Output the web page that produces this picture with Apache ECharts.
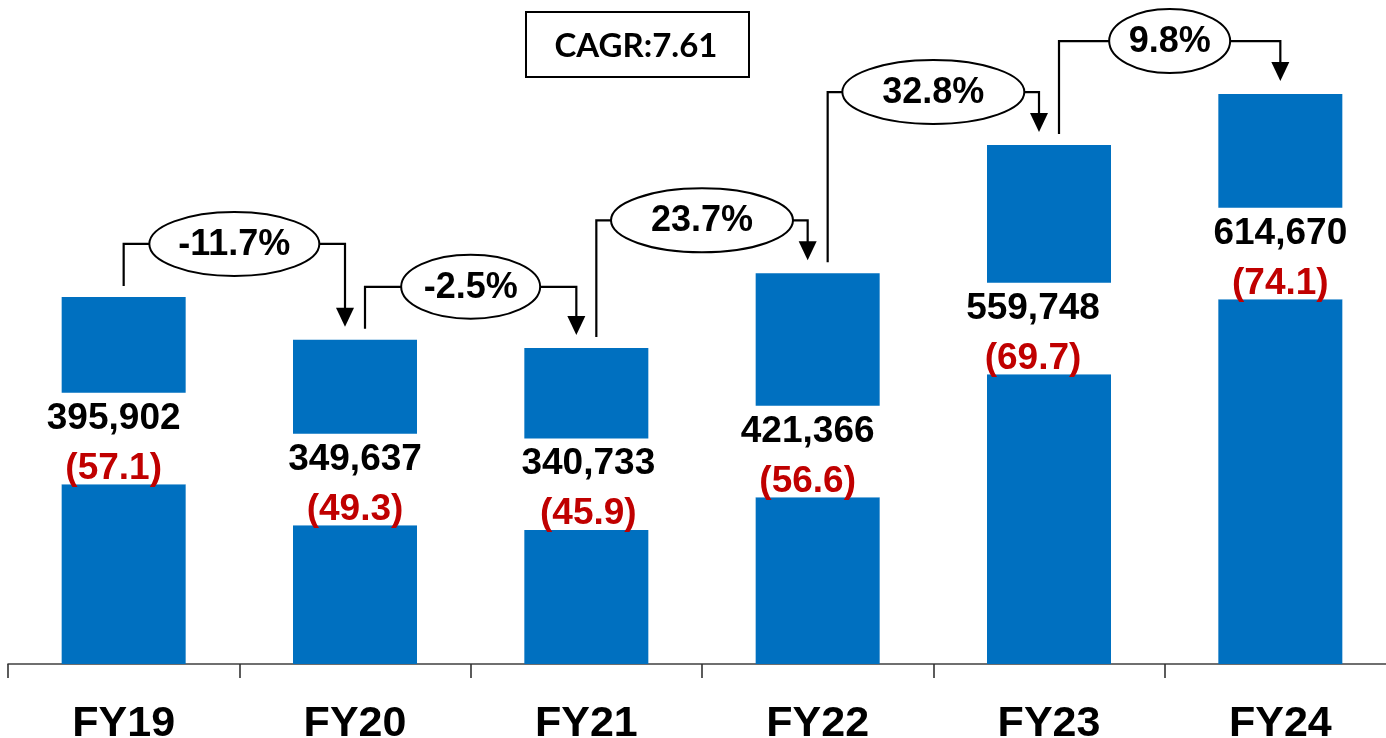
<!DOCTYPE html>
<html>
<head>
<meta charset="utf-8">
<title>FY19-FY24</title>
<style>
  html, body { margin: 0; padding: 0; background: #fff; }
  #chart { width: 1386px; height: 738px; }
</style>
<script src="https://cdn.jsdelivr.net/npm/echarts@6/dist/echarts.min.js"></script>
</head>
<body>
<div id="chart"></div>
<script>
// 数据
var category = ['FY19', 'FY20', 'FY21', 'FY22', 'FY23', 'FY24']
var barData = [395902, 349637, 340733, 421366, 559748, 614670]
var ratioData = [57.1, 49.3, 45.9, 56.6, 69.7, 74.1]
var growthData = [-11.7, -2.5, 23.7, 32.8, 9.8]
var cagrText = 'CAGR:7.61'

// layout only: white label band inside each bar (axis units), label nudges, oval widths
var bandBottom = [193800, 149600, 144500, 179800, 312500, 393400]
var bandHeight = 98700
var labelDx = [-10, 0, 2, -10, -16, 0]
var ovalWidth = [170, 139, 182, 182, 121]

var FONT = '"Liberation Sans", Arial, sans-serif'
var BLUE = '#0070C0'

var myChart = echarts.init(document.getElementById('chart'))

var lowerData = bandBottom.slice()
var bandData = barData.map(function (v, i) {
  return { value: bandHeight, label: { offset: [labelDx[i], 5] } }
})
var upperData = barData.map(function (v, i) {
  return v - bandBottom[i] - bandHeight
})
var arrowData = growthData.map(function (g, i) {
  return [i, barData[i], barData[i + 1], g]
})

// elbow arrow + oval between two neighbouring bars
function renderArrow(params, api) {
  var i = api.value(0)
  var last = category.length - 1
  var p0 = api.coord([i, api.value(1)])
  var p1 = api.coord([i + 1, api.value(2)])
  var x0 = p0[0] + (i === 0 ? 0 : 10)
  var x1 = p1[0] - (i + 1 === last ? 0 : 10)
  var y0 = p0[1] - 11
  var y1 = p1[1] - 13
  var yl = Math.min(p0[1], p1[1]) - 53
  var cx = (x0 + x1) / 2
  return {
    type: 'group',
    children: [
      {
        type: 'polyline',
        shape: { points: [[x0, y0], [x0, yl], [x1, yl], [x1, y1 - 16]] },
        style: { stroke: '#000', lineWidth: 2.2, fill: 'none' }
      },
      {
        type: 'polygon',
        shape: { points: [[x1 - 9, y1 - 19], [x1 + 9, y1 - 19], [x1, y1]] },
        style: { fill: '#000' }
      },
      {
        type: 'ellipse',
        shape: { cx: cx, cy: yl, rx: ovalWidth[i] / 2, ry: 32 },
        style: { fill: '#fff', stroke: '#000', lineWidth: 2 }
      },
      {
        type: 'text',
        style: {
          text: api.value(3).toFixed(1) + '%',
          x: cx, y: yl + 1,
          align: 'center', verticalAlign: 'middle',
          font: 'bold 36px ' + FONT,
          fill: '#000'
        }
      }
    ]
  }
}

var option = {
  animation: false,
  grid: { left: 8, right: -10, top: 15, bottom: 74, outerBoundsMode: 'none', containLabel: false },
  xAxis: {
    type: 'category',
    data: category,
    axisLine: { show: true, lineStyle: { color: '#404040', width: 1.6 } },
    axisTick: { show: true, length: 14, lineStyle: { color: '#333', width: 1.6 } },
    axisLabel: {
      margin: 39,
      color: '#000',
      fontSize: 43,
      fontWeight: 'bold',
      fontFamily: FONT
    }
  },
  yAxis: {
    type: 'value',
    min: 0,
    max: 700000,
    show: false,
    splitLine: { show: false }
  },
  graphic: [
    {
      type: 'rect',
      shape: { x: 526, y: 12, width: 223, height: 65 },
      style: { fill: '#fff', stroke: '#000', lineWidth: 2 }
    },
    {
      type: 'text',
      style: {
        text: cagrText,
        x: 636, y: 46,
        align: 'center', verticalAlign: 'middle',
        font: 'bold 33px Lato, "Open Sans", sans-serif',
        fill: '#000'
      }
    }
  ],
  series: [
    {
      name: 'lower',
      type: 'bar',
      stack: 'total',
      barWidth: 124,
      data: lowerData,
      itemStyle: { color: BLUE }
    },
    {
      name: 'band',
      type: 'bar',
      stack: 'total',
      barWidth: 124,
      data: bandData,
      itemStyle: { color: '#fff' },
      label: {
        show: true,
        position: 'inside',
        formatter: function (p) {
          return '{v|' + barData[p.dataIndex].toLocaleString('en-US') + '}\n{r|(' + ratioData[p.dataIndex].toFixed(1) + ')}'
        },
        rich: {
          v: { fontSize: 37, fontWeight: 'bold', fontFamily: FONT, color: '#000', lineHeight: 50 },
          r: { fontSize: 37, fontWeight: 'bold', fontFamily: FONT, color: '#C00000', lineHeight: 50 }
        }
      }
    },
    {
      name: 'upper',
      type: 'bar',
      stack: 'total',
      barWidth: 124,
      data: upperData,
      itemStyle: { color: BLUE }
    },
    {
      name: 'growth',
      type: 'custom',
      z: 10,
      silent: true,
      renderItem: renderArrow,
      data: arrowData
    }
  ]
}

myChart.setOption(option)
</script>
</body>
</html>
